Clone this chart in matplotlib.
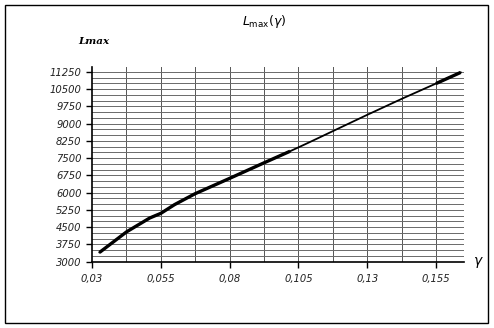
import matplotlib
matplotlib.use("Agg")
import matplotlib.pyplot as plt
import numpy as np
from matplotlib.patches import Rectangle

# values
gamma = [0.0327, 0.0426, 0.051, 0.055, 0.060, 0.0674, 0.080, 0.0926,
         0.102, 0.1092, 0.118, 0.130, 0.143, 0.155, 0.164]
lmax = [3400, 4300, 4900, 5100, 5480, 5950, 6620, 7300,
        7800, 8200, 8700, 9380, 10100, 10740, 11225]

x_ticks = [0.03, 0.055, 0.08, 0.105, 0.13, 0.155]
x_labels = ["0,03", "0,055", "0,08", "0,105", "0,13", "0,155"]
y_ticks = [3000, 3750, 4500, 5250, 6000, 6750, 7500, 8250, 9000, 9750, 10500, 11250]


def split_thick(xs, ys, lo, hi):
    xs = np.asarray(xs)
    ys = np.asarray(ys)
    a = xs <= lo
    b = xs >= hi
    return (xs[a], ys[a]), (xs[b], ys[b])


fig = plt.figure(figsize=(4.94, 3.28), dpi=100)
fig.patches.append(Rectangle((5 / 494, 5 / 328), 483 / 494, 318 / 328,
                             transform=fig.transFigure, fill=False,
                             edgecolor="black", linewidth=1))

ax = fig.add_axes([92 / 494, (328 - 261.7) / 328, 372 / 494, 194.7 / 328])
ax.set_xlim(0.03, 0.1652)
ax.set_ylim(3000, 11460)

# grid
for gx in np.arange(0.0425, 0.165, 0.0125):
    ax.axvline(gx, color="#555555", linewidth=0.7, zorder=1)
for gy in np.arange(3250, 11251, 250):
    ax.axhline(gy, color="#6a6a6a", linewidth=0.7, zorder=1)

ax.plot(gamma, lmax, color="black", linewidth=1.3, zorder=3)
(xa, ya), (xb, yb) = split_thick(gamma, lmax, 0.105, 0.155)
ax.plot(xa, ya, color="black", linewidth=2.4, solid_capstyle="butt", zorder=3)
ax.plot(xb, yb, color="black", linewidth=2.4, solid_capstyle="butt", zorder=3)

for s in ["top", "right"]:
    ax.spines[s].set_visible(False)
for s in ["left", "bottom"]:
    ax.spines[s].set_color("black")
    ax.spines[s].set_linewidth(1.2)

ax.set_xticks(x_ticks)
ax.set_xticklabels(x_labels)
ax.set_yticks(y_ticks)
ax.tick_params(axis="both", direction="out", length=4, width=1, color="black",
               labelsize=7.2, labelcolor="#222222")
ax.tick_params(axis="x", pad=5)
for lab in ax.get_xticklabels() + ax.get_yticklabels():
    lab.set_fontstyle("italic")

fig.text(94 / 494, 1 - 42 / 328, "Lmax", fontsize=7.5, fontweight="bold",
         fontstyle="italic", family="DejaVu Serif", ha="center", va="center")
fig.text(264 / 494, 1 - 22 / 328, r"$L_{\max}(\gamma)$", fontsize=9,
         ha="center", va="center")
fig.text(478 / 494, 1 - 262 / 328, r"$\gamma$", fontsize=10,
         ha="center", va="center")

fig.savefig("out.png", dpi=100)
